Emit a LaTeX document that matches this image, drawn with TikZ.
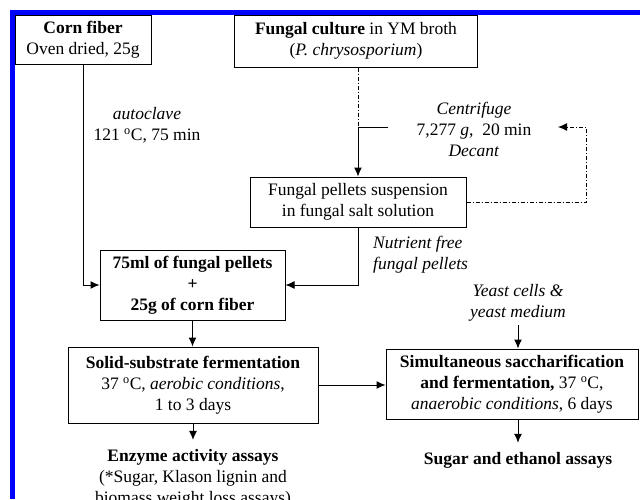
\documentclass[tikz,border=0pt]{standalone}
\usepackage{fontspec}
\setmainfont{Liberation Serif}
\usetikzlibrary{arrows.meta}
\begin{document}
\begin{tikzpicture}[x=1pt,y=-1pt,
  font=\fontsize{17.5}{21}\selectfont,
  box/.style={draw=black,line width=1pt,align=center,inner sep=0pt},
  lbl/.style={align=center,inner sep=0pt},
  arr/.style={line width=1pt,-{Latex[length=9pt,width=8pt]}},
  dd/.style={line width=1pt,dash pattern=on 4pt off 2pt on 1pt off 2pt}]
\useasboundingbox (0,0) rectangle (640,499);
\clip (0,0) rectangle (640,499);
\fill[white] (0,0) rectangle (640,499);
\fill[blue] (10,9.5) rectangle (640,14.5);
\fill[blue] (10,9.5) rectangle (15,499);
% boxes
\node[box,minimum width=136,minimum height=49] (corn) at (83,39.5) {\textbf{Corn fiber}\\Oven dried, 25g};
\node[box,minimum width=243,minimum height=52] (fungal) at (356,41) {\textbf{Fungal culture} in YM broth\\(\textit{P. chrysosporium})};
\node[box,minimum width=216,minimum height=50] (pellets) at (358,202) {Fungal pellets suspension\\in fungal salt solution};
\node[box,minimum width=185,minimum height=70] (mix) at (192.5,285) {\textbf{75ml of fungal pellets}\\\textbf{+}\\\textbf{25g of corn fiber}};
\node[box,minimum width=250,minimum height=76] (ssf) at (193,385) {\textbf{Solid-substrate fermentation}\\37 \textsuperscript{o}C, \textit{aerobic conditions},\\1 to 3 days};
\node[box,minimum width=252,minimum height=70] (sscf) at (512,384) {\textbf{Simultaneous saccharification}\\\textbf{and fermentation,} 37 \textsuperscript{o}C,\\\textit{anaerobic conditions}, 6 days};
% labels
\node[lbl] (auto) at (147,125.5) {\textit{autoclave}\\121 \textsuperscript{o}C, 75 min};
\node[lbl] (centri) at (474,129) {\textit{Centrifuge}\\7,277 \textit{g},\ \ 20 min\\\textit{Decant}};
\node[lbl,align=left,anchor=west] (nfree) at (373,254.5) {\textit{Nutrient free}\\\textit{fungal pellets}};
\node[lbl,inner ysep=4] (yeast) at (518,302.5) {\textit{Yeast cells \&}\\\textit{yeast medium}};
\node[lbl,inner ysep=9] (enz) at (193,478) {\textbf{Enzyme activity assays}\\(*Sugar, Klason lignin and\\biomass weight loss assays)};
\node[lbl,inner ysep=9] (sugar) at (518,460) {\textbf{Sugar and ethanol assays}};
% coordinates
\coordinate (j1) at (358,127);
\coordinate (cs) at (388,127);
\coordinate (r1) at (586,127);
\coordinate (r2) at (558,127);
% connectors
\draw[dd] (fungal.south -| j1) -- (j1);
\draw[arr] (cs) -- (j1) -- (pellets.north);
\draw[dd,-{Latex[length=9pt,width=8pt]}] (pellets.east) -| (r1) -- (r2);
\draw[arr] (corn.south) |- (mix.west);
\draw[arr] (pellets.south) |- (mix.east);
\draw[arr] (mix.south) -- (mix.south |- ssf.north);
\draw[arr] (ssf.east) -- (ssf.east -| sscf.west);
\draw[arr] (yeast.south) -- (yeast.south |- sscf.north);
\draw[arr] (sscf.south -| sugar.north) -- (sugar.north);
\draw[arr] (ssf.south) -- (enz.north);
\end{tikzpicture}
\end{document}
